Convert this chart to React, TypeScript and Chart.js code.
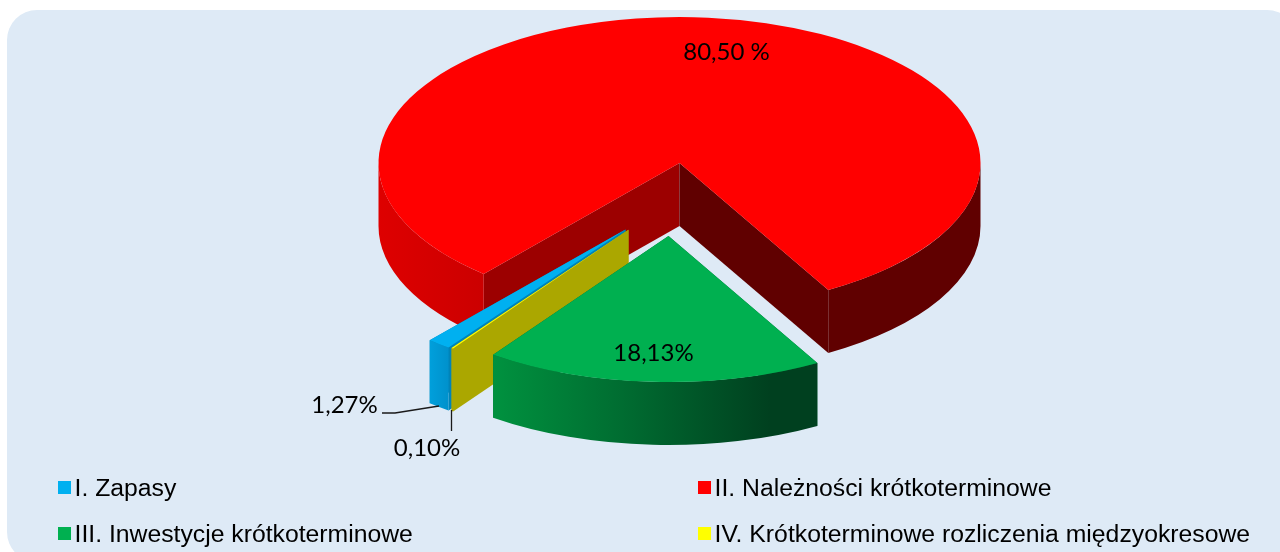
import React, { useEffect, useRef } from "react";
import { Chart, registerables } from "chart.js";

Chart.register(...registerables);

const categories = [
  "I. Zapasy",
  "II. Należności krótkoterminowe",
  "III. Inwestycje krótkoterminowe",
  "IV. Krótkoterminowe rozliczenia międzyokresowe",
];
const shares = [1.27, 80.5, 18.13, 0.1];
const shareLabels = ["1,27%", "80,50 %", "18,13%", "0,10%"];
const topColors = ["#00B0F0", "#FF0000", "#00B050", "#FFFF00"];

// Layout of the drawing (styles and positions, not data)
const W = 1280;
const H = 552;
const CX = 679.5;
const CY = 163;
const RADIUS = 301;
const SQUASH = 0.485;
const DEPTH = 63;
const ROTATION = 216;
const EXPLODE = [
  [-54, 137],
  [0, 0],
  [-11, 150.5],
  [-51, 137.8],
];
const DRAW_ORDER = [1, 0, 3, 2];
// colours of faces: [face at start angle, face at end angle]
const RADIAL_FACES = [
  ["#0084B8", "#0084B8"],
  ["#9C0000", "#600000"],
  ["#00602F", "#00602F"],
  ["#ABA700", "#ABA700"],
];
// horizontal gradient of the outer wall: [x0, x1, stops]
const WALL_GRADIENTS: [number, number, [number, string][]][] = [
  [429, 451, [[0, "#00A0DC"], [1, "#008FCA"]]],
  [378, 830, [[0, "#DE0000"], [0.23, "#CC0000"], [0.5, "#990000"], [1, "#600000"]]],
  [492, 770, [[0, "#00923F"], [0.5, "#006A30"], [1, "#00401F"]]],
  [450, 452, [[0, "#ABA700"], [1, "#ABA700"]]],
];
const LABEL_POS: [number, number][] = [
  [344.5, 405],
  [726.5, 52],
  [653.5, 353],
  [427, 448],
];
const LEGEND_POS: [number, number][] = [
  [58, 481],
  [698, 481],
  [58, 527],
  [698, 527],
];
const LEADERS: [number, number][][] = [
  [[382, 413], [395, 413], [439, 406]],
  [[451.5, 410], [451.5, 431]],
];

const frontRanges = (s: number, e: number): [number, number][] => {
  // parts of [s, e] where the wall faces the viewer (sin >= 0)
  const out: [number, number][] = [];
  const TAU = Math.PI * 2;
  for (let k = -1; k <= 2; k++) {
    const a = Math.max(s, k * TAU);
    const b = Math.min(e, k * TAU + Math.PI);
    if (b > a) out.push([a, b]);
  }
  return out;
};

const pie3d = {
  id: "pie3d",
  beforeDraw(chart: any) {
    const ctx = chart.ctx;
    ctx.save();
    ctx.fillStyle = "#DEEAF6";
    ctx.beginPath();
    ctx.roundRect(7, 10, 1290, 552, 30);
    ctx.fill();
    ctx.restore();
  },
  beforeDatasetDraw() {
    return false;
  },
  afterDatasetsDraw(chart: any) {
    const ctx = chart.ctx;
    const arcs = chart.getDatasetMeta(0).data;
    DRAW_ORDER.forEach((i) => {
      const arc = arcs[i];
      const cx = CX + EXPLODE[i][0];
      const cy = CY + EXPLODE[i][1] * SQUASH;
      const r = arc.outerRadius;
      const pt = (a: number): [number, number] => [
        cx + r * Math.cos(a),
        cy + r * SQUASH * Math.sin(a),
      ];
      // radial faces
      [arc.startAngle, arc.endAngle].forEach((a: number, f: number) => {
        const [x, y] = pt(a);
        ctx.fillStyle = RADIAL_FACES[i][f];
        ctx.beginPath();
        ctx.moveTo(cx, cy);
        ctx.lineTo(x, y);
        ctx.lineTo(x, y + DEPTH);
        ctx.lineTo(cx, cy + DEPTH);
        ctx.closePath();
        ctx.fill();
      });
      // outer wall
      const [gx0, gx1, stops] = WALL_GRADIENTS[i];
      const g = ctx.createLinearGradient(gx0, 0, gx1, 0);
      stops.forEach(([o, c]) => g.addColorStop(o, c));
      ctx.fillStyle = g;
      frontRanges(arc.startAngle, arc.endAngle).forEach(([a, b]) => {
        ctx.beginPath();
        ctx.ellipse(cx, cy, r, r * SQUASH, 0, a, b, false);
        ctx.ellipse(cx, cy + DEPTH, r, r * SQUASH, 0, b, a, true);
        ctx.closePath();
        ctx.fill();
      });
      // top face: the library's own arc, under a squashing transform
      ctx.save();
      ctx.translate(cx, cy);
      ctx.scale(1, SQUASH);
      ctx.translate(-arc.x, -arc.y);
      arc.draw(ctx);
      ctx.restore();
    });

    // leader lines
    ctx.save();
    ctx.strokeStyle = "#1a1a1a";
    ctx.lineWidth = 1.3;
    LEADERS.forEach((line) => {
      ctx.beginPath();
      line.forEach(([x, y], j) => (j ? ctx.lineTo(x, y) : ctx.moveTo(x, y)));
      ctx.stroke();
    });
    // data labels
    ctx.fillStyle = "#000";
    ctx.font = '24px Lato, "Noto Sans", sans-serif';
    ctx.textAlign = "center";
    ctx.textBaseline = "middle";
    shareLabels.forEach((t, i) => ctx.fillText(t, LABEL_POS[i][0], LABEL_POS[i][1]));
    // legend
    ctx.font = '24.75px "Liberation Sans", Arial, sans-serif';
    ctx.textAlign = "left";
    ctx.textBaseline = "alphabetic";
    chart.data.labels.forEach((t: string, i: number) => {
      const [x, y] = LEGEND_POS[i];
      ctx.fillStyle = chart.data.datasets[0].backgroundColor[i];
      ctx.fillRect(x, y, 13, 13);
      ctx.fillStyle = "#000";
      ctx.fillText(t, x + 16.5, y + 15);
    });
    ctx.restore();
  },
};

export default function App() {
  const ref = useRef<HTMLCanvasElement>(null);
  useEffect(() => {
    document.body.style.margin = "0";
    const chart = new Chart(ref.current!, {
      type: "pie",
      data: {
        labels: categories,
        datasets: [
          {
            data: shares,
            backgroundColor: topColors,
            borderWidth: 0,
          },
        ],
      },
      options: {
        responsive: false,
        animation: false,
        radius: RADIUS,
        rotation: ROTATION,
        events: [],
        plugins: {
          legend: { display: false },
          title: { display: false },
          tooltip: { enabled: false },
        },
      } as any,
      plugins: [pie3d],
    });
    return () => chart.destroy();
  }, []);
  return <canvas ref={ref} width={W} height={H} style={{ display: "block" }} />;
}
